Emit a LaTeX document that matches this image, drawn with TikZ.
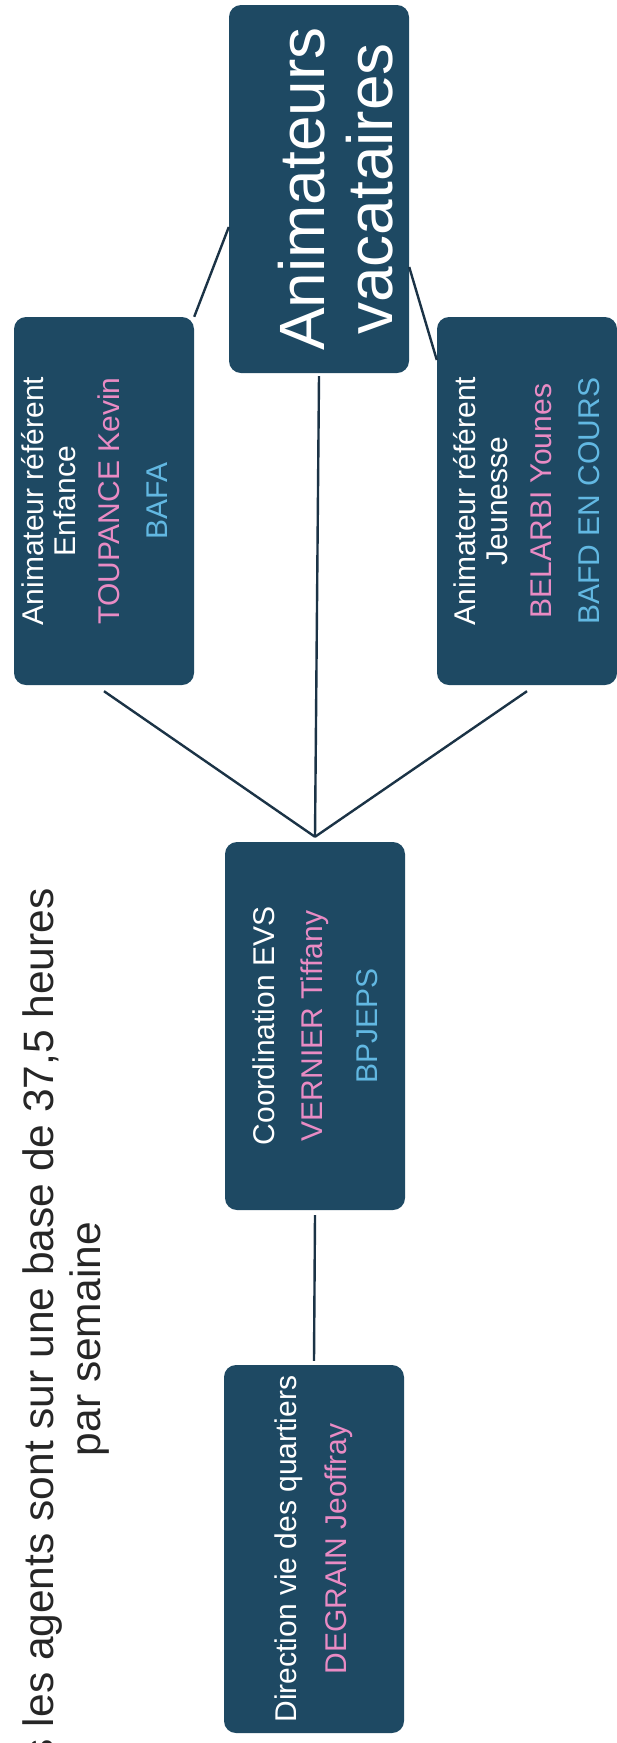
\documentclass[tikz,border=0pt]{standalone}
\usepackage{fontspec}
\setmainfont{Liberation Sans}
\definecolor{boxblue}{HTML}{1E4963}
\definecolor{namepink}{HTML}{E98BC4}
\definecolor{diplblue}{HTML}{62B8E2}
\definecolor{linkblue}{HTML}{1B3346}
\tikzset{
  post/.style={rotate=90, fill=boxblue, rounded corners=12pt, minimum width=368pt, minimum height=180pt, inner sep=0pt, align=center, text=white, font=\fontsize{30}{34}\selectfont},
  note/.style={rotate=90, inner sep=0pt, text=black!85, font=\fontsize{42.5}{48}\selectfont},
  link/.style={linkblue, line width=2.4pt},
}
\newcommand{\nom}[1]{\textcolor{namepink}{#1}}
\newcommand{\dipl}[1]{\textcolor{diplblue}{#1}}

\begin{document}
\begin{tikzpicture}[x=1pt,y=-1pt]
\useasboundingbox (0,0) rectangle (616,1743);
\node [post, font=\fontsize{64}{68}\selectfont] (vac) at (319,189) {\rule{0pt}{80pt}Animateurs\\vacataires};
\node [post] (enf) at (104,501) {Animateur référent\\[-2pt]Enfance\\[10pt]\nom{TOUPANCE Kevin}\\[14pt]\dipl{BAFA}\rule[-20pt]{0pt}{20pt}};
\node [post] (jeu) at (527,501) {Animateur référent\\[-2pt]Jeunesse\\[10pt]\nom{BELARBI Younes}\\[14pt]\dipl{BAFD EN COURS}};
\node [post] (coord) at (315,1026) {Coordination EVS\\[14pt]\nom{VERNIER Tiffany}\\[21pt]\dipl{BPJEPS}};
\node [post] (dir) at (314,1549) {Direction vie des quartiers\\[16pt]\nom{DEGRAIN Jeoffray}};
\node [note, anchor=base east] (hours) at (53,888) {s les agents sont sur une base de 37,5 heures};
\node [note, anchor=base east] (week) at (100,1222) {par semaine};
\coordinate (hub) at ([yshift=5pt]coord.east);
\draw [link] (hub) -- ([yshift=-6pt]enf.west);
\draw [link] (hub) -- ([yshift=-6pt]jeu.west);
\draw [link] (hub) -- ([yshift=-3pt]vac.west);
\draw [link] (enf.south east) -- ([yshift=-38pt]vac.north);
\draw [link] ([yshift=141pt]jeu.north) -- ([yshift=-78pt]vac.south);
\draw [link] ([yshift=-5pt]coord.west) -- ([yshift=4pt]dir.east);
\end{tikzpicture}
\end{document}
